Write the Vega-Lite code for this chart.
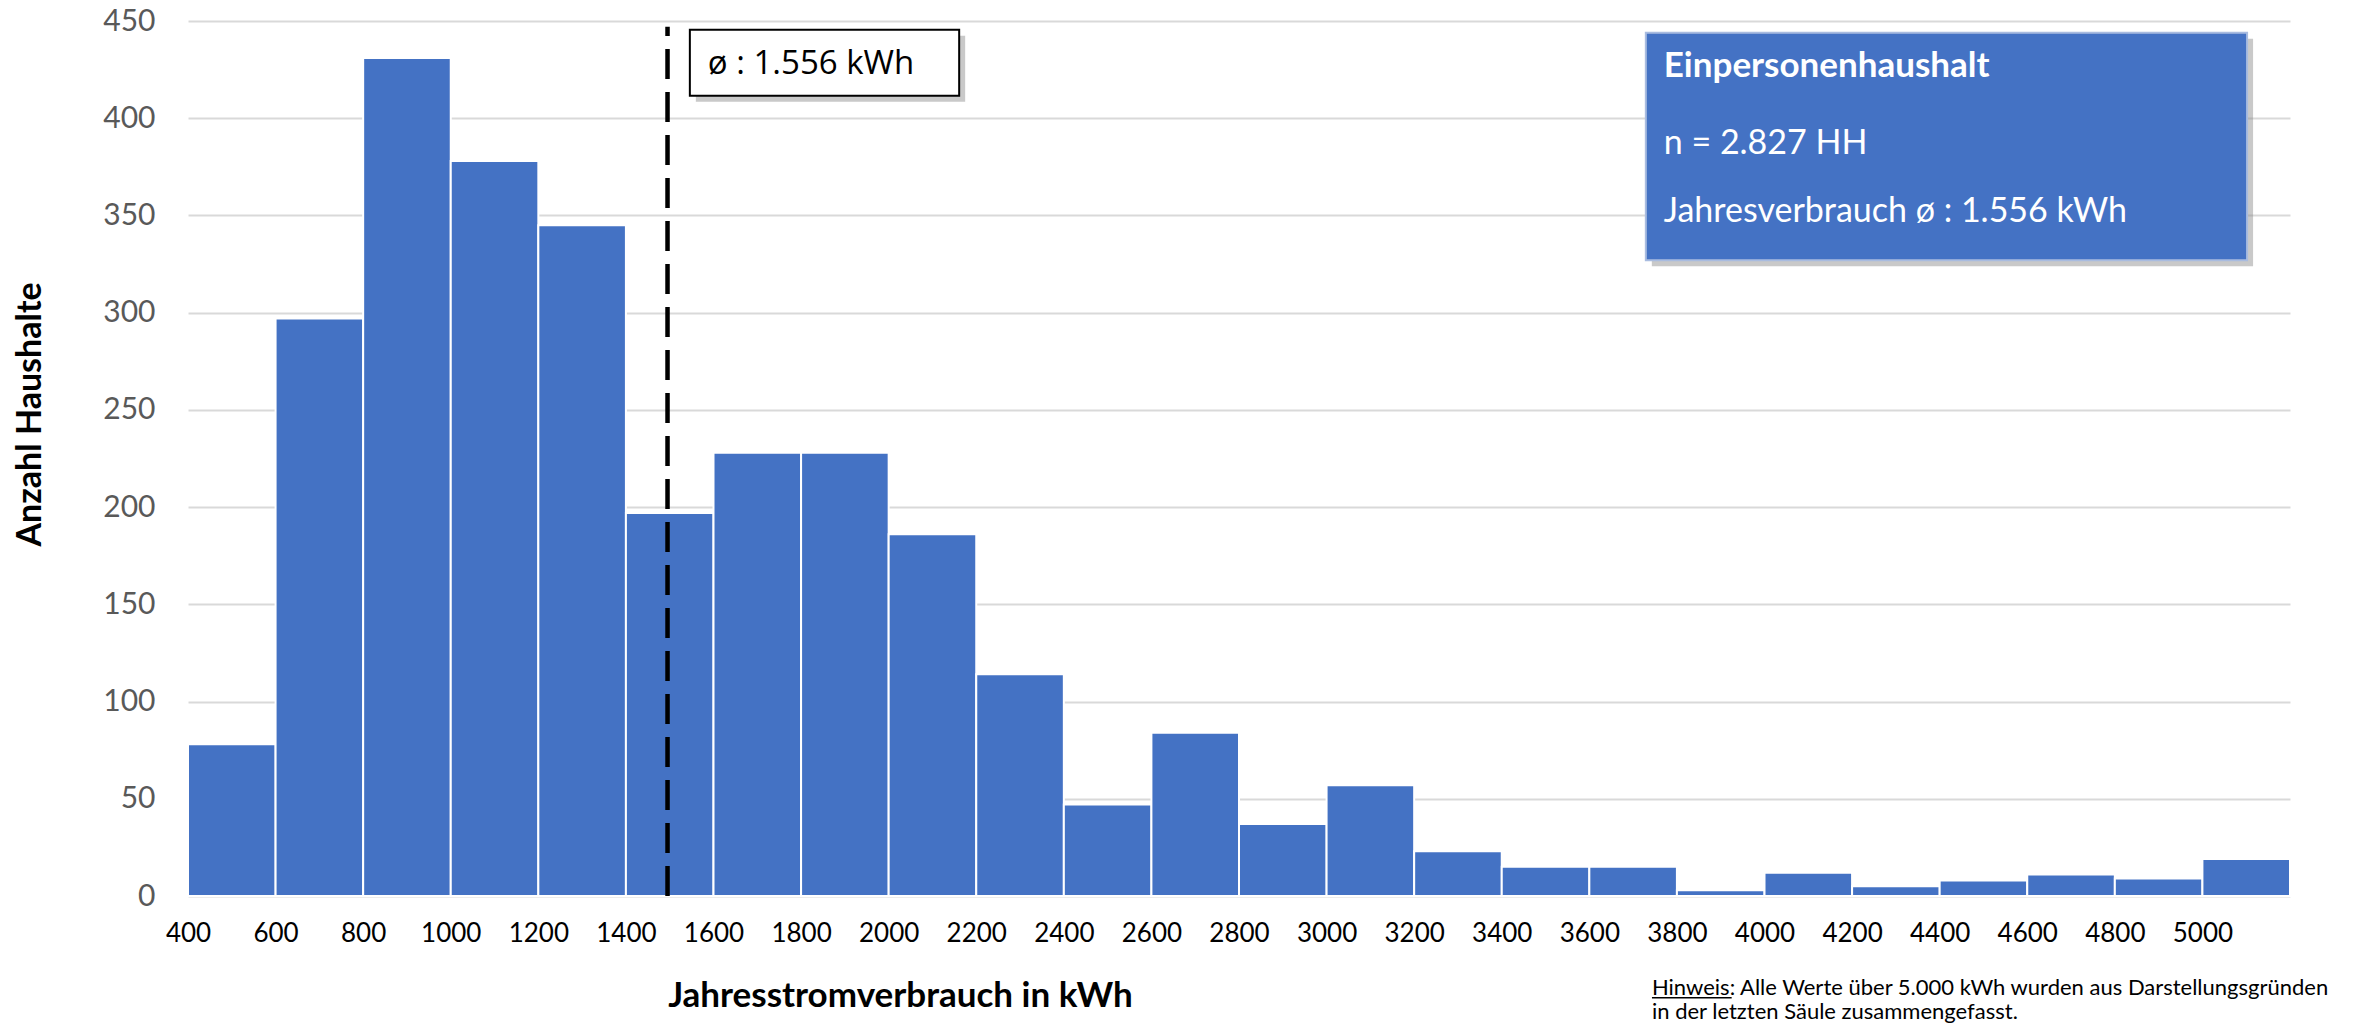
{
  "$schema": "https://vega.github.io/schema/vega-lite/v6.json",
  "width": 2102,
  "height": 875,
  "autosize": {"type": "none"},
  "padding": {"left": 188, "top": 21, "right": 71, "bottom": 130},
  "background": "white",
  "config": {"view": {"stroke": null}, "font": "Lato"},
  "data": {"values": [
    {"von": 400, "bis": 600, "anzahl": 78},
    {"von": 600, "bis": 800, "anzahl": 297},
    {"von": 800, "bis": 1000, "anzahl": 431},
    {"von": 1000, "bis": 1200, "anzahl": 378},
    {"von": 1200, "bis": 1400, "anzahl": 345},
    {"von": 1400, "bis": 1600, "anzahl": 197},
    {"von": 1600, "bis": 1800, "anzahl": 228},
    {"von": 1800, "bis": 2000, "anzahl": 228},
    {"von": 2000, "bis": 2200, "anzahl": 186},
    {"von": 2200, "bis": 2400, "anzahl": 114},
    {"von": 2400, "bis": 2600, "anzahl": 47},
    {"von": 2600, "bis": 2800, "anzahl": 84},
    {"von": 2800, "bis": 3000, "anzahl": 37},
    {"von": 3000, "bis": 3200, "anzahl": 57},
    {"von": 3200, "bis": 3400, "anzahl": 23},
    {"von": 3400, "bis": 3600, "anzahl": 15},
    {"von": 3600, "bis": 3800, "anzahl": 15},
    {"von": 3800, "bis": 4000, "anzahl": 3},
    {"von": 4000, "bis": 4200, "anzahl": 12},
    {"von": 4200, "bis": 4400, "anzahl": 5},
    {"von": 4400, "bis": 4600, "anzahl": 8},
    {"von": 4600, "bis": 4800, "anzahl": 11},
    {"von": 4800, "bis": 5000, "anzahl": 9},
    {"von": 5000, "bis": 5200, "anzahl": 19}
  ]},
  "layer": [
    {
      "mark": {"type": "rect", "color": "#4472C4", "stroke": "white", "strokeWidth": 2},
      "encoding": {
        "x": {
          "field": "von", "type": "quantitative",
          "scale": {"domain": [400, 5200], "nice": false, "zero": false},
          "axis": {
            "values": [400, 600, 800, 1000, 1200, 1400, 1600, 1800, 2000, 2200, 2400, 2600, 2800, 3000, 3200, 3400, 3600, 3800, 4000, 4200, 4400, 4600, 4800, 5000],
            "format": "d",
            "grid": false, "domain": false, "ticks": false,
            "labelFontSize": 26, "labelColor": "#000000", "labelPadding": 24, "labelFlush": false,
            "title": "Jahresstromverbrauch in kWh", "titleFontSize": 35, "titleFontWeight": "bold",
            "titleColor": "#000000", "titleX": 712, "titleY": 99, "titleBaseline": "middle", "titleAlign": "center"
          }
        },
        "x2": {"field": "bis"},
        "y": {
          "field": "anzahl", "type": "quantitative",
          "scale": {"domain": [0, 450], "nice": false},
          "axis": {
            "values": [0, 50, 100, 150, 200, 250, 300, 350, 400, 450],
            "grid": true, "gridColor": "#D9D9D9", "gridWidth": 2, "domain": false, "ticks": false,
            "labelFontSize": 30, "labelColor": "#595959", "labelPadding": 33,
            "title": "Anzahl Haushalte", "titleFontSize": 34, "titleFontWeight": "bold", "titleColor": "#000000",
            "titleX": -158, "titleY": 393, "titleAngle": -90, "titleBaseline": "middle", "titleAlign": "center"
          }
        },
        "y2": {"datum": 0}
      }
    },
    {
      "data": {"values": [{}]},
      "mark": {"type": "rule", "color": "black", "strokeWidth": 4.5, "strokeDash": [30, 13]},
      "encoding": {"x": {"datum": 1495}, "y": {"datum": 0}, "y2": {"datum": 447}}
    },
    {
      "data": {"values": [{}]},
      "mark": {"type": "rect", "fill": "#888888", "opacity": 0.45, "xOffset": 6, "x2Offset": 6, "yOffset": 6, "y2Offset": 6},
      "encoding": {"x": {"datum": 1546}, "x2": {"datum": 2161}, "y": {"datum": 445.5}, "y2": {"datum": 411.5}}
    },
    {
      "data": {"values": [{}]},
      "mark": {"type": "rect", "fill": "white", "stroke": "black", "strokeWidth": 2},
      "encoding": {"x": {"datum": 1546}, "x2": {"datum": 2161}, "y": {"datum": 445.5}, "y2": {"datum": 411.5}}
    },
    {
      "data": {"values": [{}]},
      "mark": {"type": "text", "text": "ø : 1.556 kWh", "font": "Open Sans", "fontSize": 33, "align": "left", "baseline": "middle", "color": "black"},
      "encoding": {"x": {"datum": 1587}, "y": {"datum": 428}}
    },
    {
      "data": {"values": [{}]},
      "mark": {"type": "rect", "fill": "#888888", "opacity": 0.45, "xOffset": 6, "x2Offset": 6, "yOffset": 6, "y2Offset": 6},
      "encoding": {"x": {"datum": 3729}, "x2": {"datum": 5102}, "y": {"datum": 444}, "y2": {"datum": 327}}
    },
    {
      "data": {"values": [{}]},
      "mark": {"type": "rect", "fill": "#4472C4", "stroke": "#A9BCE0", "strokeWidth": 2},
      "encoding": {"x": {"datum": 3729}, "x2": {"datum": 5102}, "y": {"datum": 444}, "y2": {"datum": 327}}
    },
    {
      "data": {"values": [{}]},
      "mark": {"type": "text", "text": "Einpersonenhaushalt", "fontSize": 35, "fontWeight": "bold", "align": "left", "baseline": "middle", "color": "white"},
      "encoding": {"x": {"datum": 3770}, "y": {"datum": 427}}
    },
    {
      "data": {"values": [{}]},
      "mark": {"type": "text", "text": "n = 2.827 HH", "fontSize": 34, "align": "left", "baseline": "middle", "color": "white"},
      "encoding": {"x": {"datum": 3770}, "y": {"datum": 387}}
    },
    {
      "data": {"values": [{}]},
      "mark": {"type": "text", "text": "Jahresverbrauch ø : 1.556 kWh", "fontSize": 34, "align": "left", "baseline": "middle", "color": "white"},
      "encoding": {"x": {"datum": 3770}, "y": {"datum": 352}}
    },
    {
      "data": {"values": [{}]},
      "mark": {"type": "text", "text": "Hinweis: Alle Werte über 5.000 kWh wurden aus Darstellungsgründen\nin der letzten Säule zusammengefasst.", "lineBreak": "\n", "lineHeight": 24, "fontSize": 22, "align": "left", "baseline": "top", "color": "black"},
      "encoding": {"x": {"datum": 3743}, "y": {"datum": -42.2}}
    },
    {
      "data": {"values": [{}]},
      "mark": {"type": "rule", "color": "black", "strokeWidth": 1.5},
      "encoding": {"x": {"datum": 3743}, "x2": {"datum": 3925}, "y": {"datum": -52.3}}
    }
  ]
}
